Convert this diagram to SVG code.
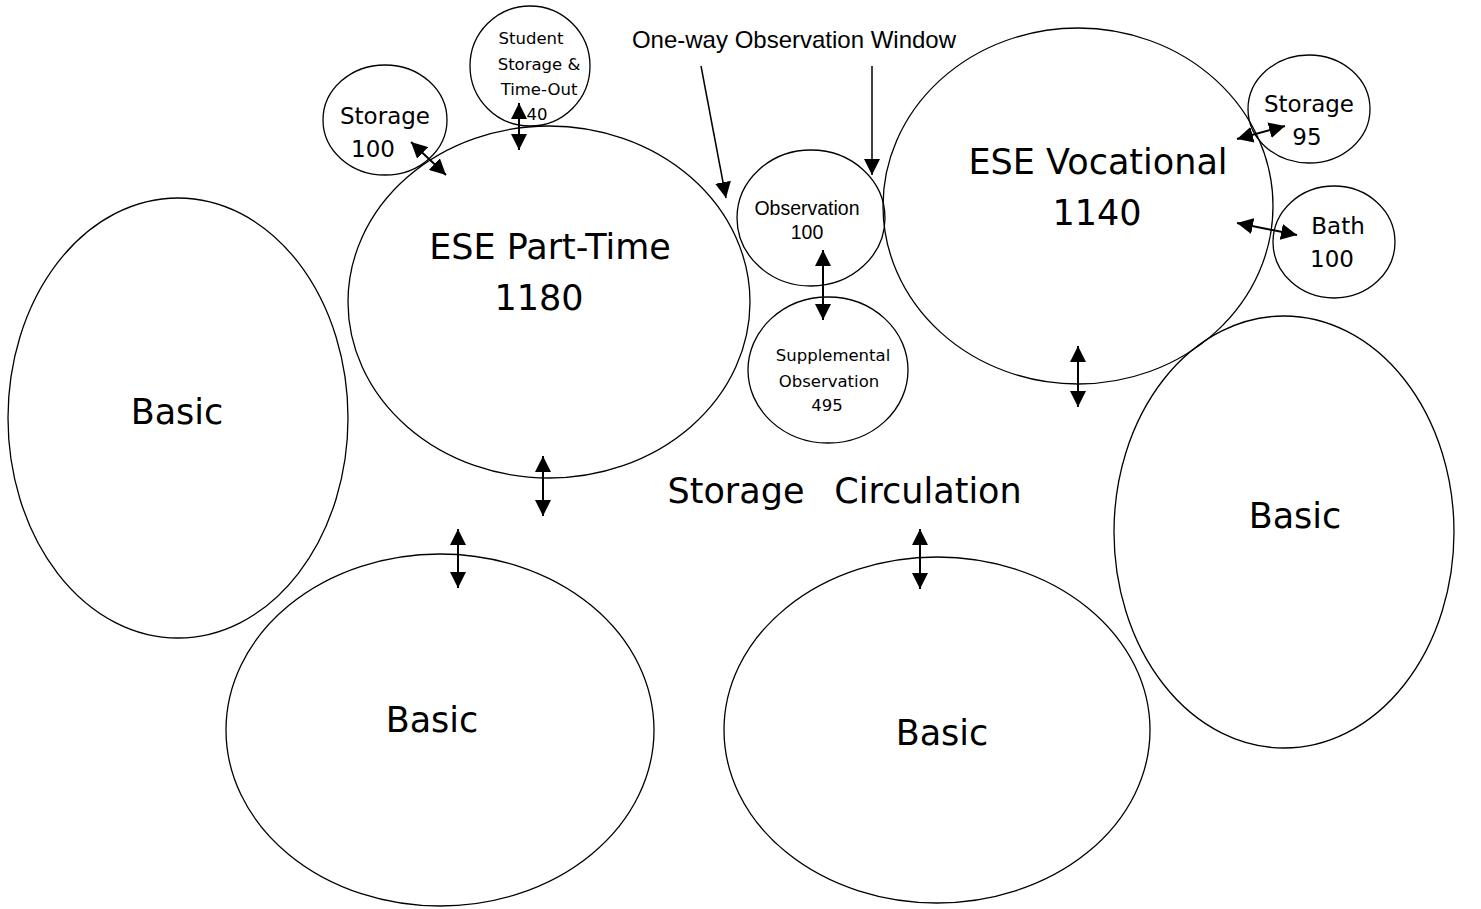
<svg xmlns="http://www.w3.org/2000/svg" width="1481" height="909" viewBox="0 0 1481 909">
<style>
.n{fill:none;stroke:#000;stroke-width:1.3}
.c{font-family:"DejaVu Sans",sans-serif;fill:#000;text-anchor:middle}
.a{font-family:"Liberation Sans",Arial,sans-serif;fill:#000;text-anchor:middle}
.big{font-size:35px}
.mid{font-size:23px}
.sm{font-size:16.5px}
.ln{stroke:#000;stroke-width:2;fill:none}
</style>
<defs>
<marker id="ah2" viewBox="0 0 10 10" refX="10" refY="5" markerWidth="16" markerHeight="16" markerUnits="userSpaceOnUse" orient="auto-start-reverse">
<path d="M0,0L10,5L0,10z" fill="#000"/>
</marker>
</defs>
<rect width="1481" height="909" fill="#fff"/>
<g id="basic-left"><ellipse class="n" cx="178" cy="418" rx="170" ry="220"/><text class="c big" x="177" y="424">Basic</text></g>
<g id="ese-part-time"><ellipse class="n" cx="549" cy="302" rx="201" ry="176"/><text class="c big" x="550" y="259">ESE Part-Time</text><text class="c big" x="539" y="310">1180</text></g>
<g id="basic-bottom-left"><ellipse class="n" cx="440" cy="730" rx="214" ry="176"/><text class="c big" x="432" y="732">Basic</text></g>
<g id="basic-bottom-mid"><ellipse class="n" cx="937" cy="730" rx="213" ry="173"/><text class="c big" x="942" y="745">Basic</text></g>
<g id="basic-right"><ellipse class="n" cx="1284" cy="532" rx="170" ry="216"/><text class="c big" x="1295" y="528">Basic</text></g>
<g id="ese-vocational"><ellipse class="n" cx="1078" cy="206" rx="195" ry="178"/><text class="c big" x="1098" y="174">ESE Vocational</text><text class="c big" x="1097" y="225">1140</text></g>
<g id="storage-100"><ellipse class="n" cx="385" cy="120" rx="62" ry="55"/><text class="c mid" x="385" y="124">Storage</text><text class="c mid" x="373" y="157">100</text></g>
<g id="student-storage"><ellipse class="n" cx="530" cy="66" rx="60" ry="60"/><text class="c sm" x="531" y="44">Student</text><text class="c sm" x="539" y="70">Storage &amp;</text><text class="c sm" x="539" y="95">Time-Out</text><text class="c sm" x="537" y="120">40</text></g>
<g id="observation"><ellipse class="n" cx="811" cy="218" rx="74" ry="68"/><text class="a" style="font-size:19.5px" x="807" y="215">Observation</text><text class="a" style="font-size:19.5px" x="807" y="239">100</text></g>
<g id="supplemental"><ellipse class="n" cx="828" cy="370" rx="80" ry="73"/><text class="c sm" x="833" y="361">Supplemental</text><text class="c sm" x="829" y="387">Observation</text><text class="c sm" x="827" y="411">495</text></g>
<g id="storage-95"><ellipse class="n" cx="1309" cy="109" rx="61" ry="54"/><text class="c mid" x="1309" y="112">Storage</text><text class="c mid" x="1307" y="145">95</text></g>
<g id="bath-100"><ellipse class="n" cx="1334" cy="242" rx="61" ry="56"/><text class="c mid" x="1338" y="234">Bath</text><text class="c mid" x="1332" y="267">100</text></g>
<g id="labels">
<text class="a" style="font-size:24px" x="794" y="48">One-way Observation Window</text>
<text class="c big" x="736" y="503">Storage</text>
<text class="c big" x="928" y="503">Circulation</text>
</g>
<g id="connectors">
<line class="ln" x1="411" y1="142" x2="446" y2="175" marker-start="url(#ah2)" marker-end="url(#ah2)"/>
<line class="ln" x1="519" y1="103" x2="519" y2="150" marker-start="url(#ah2)" marker-end="url(#ah2)"/>
<line class="ln" style="stroke-width:1.5" x1="701" y1="66" x2="726" y2="198" marker-end="url(#ah2)"/>
<line class="ln" style="stroke-width:1.5" x1="872" y1="66" x2="872" y2="175" marker-end="url(#ah2)"/>
<line class="ln" x1="823" y1="250" x2="823" y2="320" marker-start="url(#ah2)" marker-end="url(#ah2)"/>
<line class="ln" x1="1237" y1="139" x2="1285" y2="126" marker-start="url(#ah2)" marker-end="url(#ah2)"/>
<line class="ln" x1="1237" y1="223" x2="1297" y2="235" marker-start="url(#ah2)" marker-end="url(#ah2)"/>
<line class="ln" x1="543" y1="456" x2="543" y2="516" marker-start="url(#ah2)" marker-end="url(#ah2)"/>
<line class="ln" x1="458" y1="529" x2="458" y2="588" marker-start="url(#ah2)" marker-end="url(#ah2)"/>
<line class="ln" x1="1078" y1="346" x2="1078" y2="407" marker-start="url(#ah2)" marker-end="url(#ah2)"/>
<line class="ln" x1="920" y1="529" x2="920" y2="589" marker-start="url(#ah2)" marker-end="url(#ah2)"/>
</g>
</svg>
